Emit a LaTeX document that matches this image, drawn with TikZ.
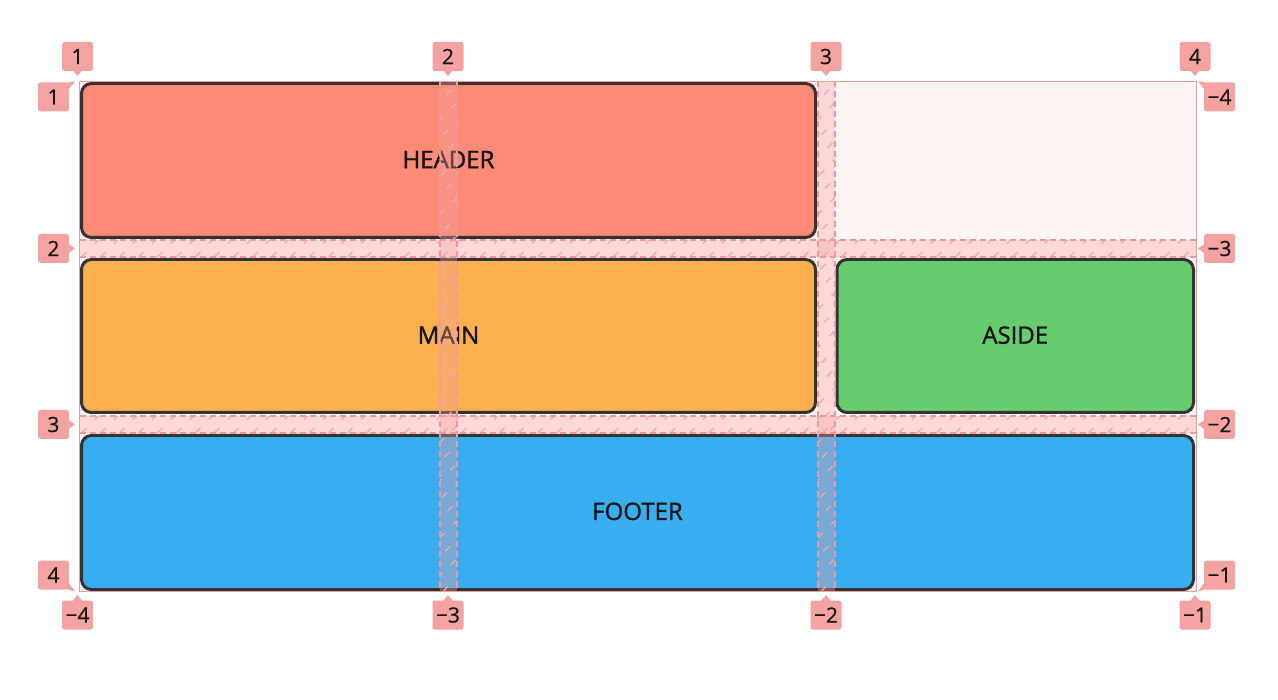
\documentclass[tikz,border=0pt]{standalone}
\usepackage{fontspec}
\setmainfont{Open Sans}
\newfontfamily\itemfont{Open Sans}[FakeBold=1.3]
\newfontfamily\lblfont{Open Sans}[FakeBold=0.5]
\definecolor{headerc}{HTML}{FB8B74}
\definecolor{mainc}{HTML}{FBAF4E}
\definecolor{asidec}{HTML}{67CC6E}
\definecolor{footerc}{HTML}{38AEF0}
\definecolor{itemborder}{HTML}{333333}
\definecolor{textdark}{HTML}{151515}
\definecolor{lblpink}{HTML}{F4A2A2}
\definecolor{gridline}{HTML}{F29C9C}
\definecolor{gapline}{HTML}{EE98A2}
\definecolor{hatchpink}{HTML}{F4A6AE}
\definecolor{gridbg}{HTML}{FFF4F4}
\tikzset{
  item/.style={draw=itemborder, line width=3pt, rounded corners=10pt, inner sep=0pt,
    font=\itemfont\fontsize{24}{28}\selectfont, text=textdark},
  lbl/.style={fill=lblpink, rounded corners=2.5pt, minimum width=31pt, minimum height=29pt,
    inner sep=0pt, font=\lblfont\fontsize{21}{24}\selectfont, text=textdark},
  gapfill/.style={fill=lblpink, fill opacity=0.35},
  gapedge/.style={draw=gapline, line width=1.3pt, dash pattern=on 6pt off 4pt},
  hatchline/.style={draw=hatchpink, line width=1.2pt, dash pattern=on 7pt off 12pt},
}
\newcommand\hatchband[4]{%
  \begin{scope}
    \clip (#1,#2) rectangle (#3,#4);
    \pgfmathsetmacro\hbh{#4-#2}
    \pgfmathsetmacro\hbs{#1-\hbh}
    \pgfmathsetmacro\hbn{\hbs+19}
    \foreach \a in {\hbs,\hbn,...,#3} \draw[hatchline] (\a,#4) -- ++(\hbh,-\hbh);
  \end{scope}}
\begin{document}
\begin{tikzpicture}[x=1pt,y=-1pt]
\useasboundingbox (0,0) rectangle (1278,700);
% grid container background
\fill[gridbg] (79.5,81.5) rectangle (1196.5,591.5);
% items
\node[item, fill=headerc, minimum width=734pt, minimum height=154pt] (header) at (448.5,160.5) {\raisebox{2pt}{HEADER}};
\node[item, fill=mainc, minimum width=734pt, minimum height=153pt] (main) at (448.5,336) {\raisebox{2pt}{MAIN}};
\node[item, fill=asidec, minimum width=356.5pt, minimum height=153pt] (aside) at (1015.25,336) {\raisebox{2pt}{ASIDE}};
\node[item, fill=footerc, minimum width=1112pt, minimum height=154pt] (footer) at (637.5,512.5) {\raisebox{2.5pt}{FOOTER}};
% gap bands
\fill[gapfill] (79.5,240) rectangle (1196.5,257);
\fill[gapfill] (79.5,416) rectangle (1196.5,433);
\fill[gapfill] (440,81.5) rectangle (457,591.5);
\fill[gapfill] (818,81.5) rectangle (835,591.5);
\hatchband{79.5}{240}{1196.5}{257}
\hatchband{79.5}{416}{1196.5}{433}
\hatchband{440}{81.5}{457}{591.5}
\hatchband{818}{81.5}{835}{591.5}
\draw[gapedge] (79.5,240) -- (1196.5,240);
\draw[gapedge] (79.5,257) -- (1196.5,257);
\draw[gapedge] (79.5,416) -- (1196.5,416);
\draw[gapedge] (79.5,433) -- (1196.5,433);
\draw[gapedge] (440,81.5) -- (440,591.5);
\draw[gapedge] (457,81.5) -- (457,591.5);
\draw[gapedge] (818,81.5) -- (818,591.5);
\draw[gapedge] (835,81.5) -- (835,591.5);
% outer grid line
\draw[gridline, line width=1.8pt] (79.5,81.5) rectangle (1196.5,591.5);
% top labels
\foreach \x/\t/\n in {77.5/1/t1, 448/2/t2, 826/3/t3, 1195/4/t4} {
  \fill[lblpink] (\x-5,70) -- (\x,76) -- (\x+5,70) -- cycle;
  \node[lbl] (\n) at (\x,56.5) {\t};
}
% bottom labels
\foreach \x/\t/\n in {77.5/−4/b1, 448/−3/b2, 826/−2/b3, 1195/−1/b4} {
  \fill[lblpink] (\x-5,601) -- (\x,595) -- (\x+5,601) -- cycle;
  \node[lbl] (\n) at (\x,615) {\t};
}
% left labels
\fill[lblpink] (68,82) -- (75,81.5) -- (68,90) -- cycle;
\node[lbl] (l1) at (53.5,97) {1};
\foreach \y/\t/\n in {248.5/2/l2, 424.5/3/l3} {
  \fill[lblpink] (68,\y-5) -- (75,\y) -- (68,\y+5) -- cycle;
  \node[lbl] (\n) at (53.5,\y) {\t};
}
\fill[lblpink] (68,589.5) -- (75,591.5) -- (68,582) -- cycle;
\node[lbl] (l4) at (53.5,575) {4};
% right labels
\fill[lblpink] (1205,82) -- (1198,81.5) -- (1205,90) -- cycle;
\node[lbl] (r1) at (1219.5,97) {−4};
\foreach \y/\t/\n in {248.5/−3/r2, 424.5/−2/r3} {
  \fill[lblpink] (1205,\y-5) -- (1198,\y) -- (1205,\y+5) -- cycle;
  \node[lbl] (\n) at (1219.5,\y) {\t};
}
\fill[lblpink] (1205,589.5) -- (1198,591.5) -- (1205,582) -- cycle;
\node[lbl] (r4) at (1219.5,575) {−1};
\end{tikzpicture}
\end{document}
